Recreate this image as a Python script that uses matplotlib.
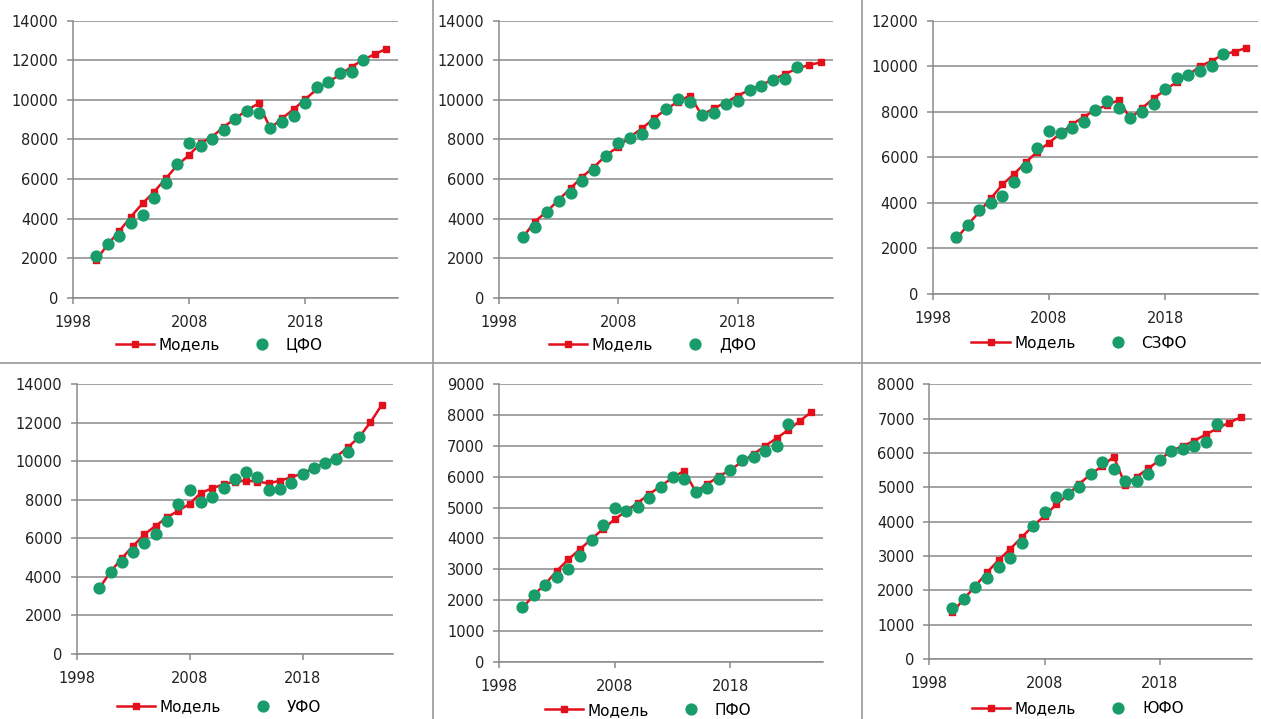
import numpy as np
import matplotlib
matplotlib.use("Agg")
import matplotlib.pyplot as plt
from matplotlib.lines import Line2D

plt.rcParams['font.family'] = ['DejaVu Sans']

years_model = list(range(2000, 2026))
years_fact = list(range(2000, 2024))

# ЦФО
cfo_model = [1900, 2700, 3370, 4100, 4770, 5360, 6030, 6700, 7210, 7800, 8140, 8640, 9060,
             9490, 9820, 8560, 9060, 9520, 10030, 10530, 10920, 11260, 11680, 12010, 12320, 12570]
cfo_fact = [2110, 2700, 3130, 3790, 4180, 5020, 5780, 6740, 7800, 7680, 8000, 8480, 9030,
            9450, 9320, 8590, 8900, 9180, 9860, 10630, 10920, 11340, 11410, 12000]

# ДФО
dfo_model = [3050, 3840, 4350, 4940, 5530, 6120, 6620, 7210, 7630, 8140, 8560, 9060, 9520,
             9910, 10210, 9230, 9570, 9860, 10210, 10500, 10750, 11040, 11310, 11590, 11760, 11900]
dfo_fact = [3050, 3560, 4310, 4890, 5310, 5910, 6450, 7180, 7830, 8050, 8270, 8810, 9520,
            10030, 9870, 9230, 9320, 9790, 9960, 10500, 10700, 11000, 11040, 11680]

# СЗФО
szfo_model = [2400, 3030, 3610, 4200, 4810, 5270, 5780, 6250, 6640, 7050, 7450, 7780, 8080,
              8300, 8510, 7710, 8150, 8590, 8950, 9320, 9610, 10010, 10230, 10520, 10640, 10810]
szfo_fact = [2490, 3030, 3690, 3980, 4300, 4930, 5590, 6420, 7150, 7050, 7300, 7560, 8080,
             8490, 8180, 7710, 8000, 8340, 9000, 9470, 9610, 9790, 10020, 10520]

# УФО
ufo_model = [3410, 4270, 4970, 5610, 6210, 6660, 7090, 7440, 7790, 8370, 8600, 8810, 8950,
             9000, 8950, 8860, 9000, 9170, 9380, 9640, 9930, 10240, 10730, 11250, 12020, 12920]
ufo_fact = [3410, 4270, 4790, 5290, 5780, 6210, 6920, 7790, 8510, 7910, 8130, 8600, 9080,
            9430, 9170, 8510, 8560, 8860, 9330, 9640, 9900, 10120, 10500, 11250]

# ПФО
pfo_model = [1730, 2160, 2520, 2950, 3320, 3650, 3980, 4310, 4620, 4890, 5160, 5440, 5700,
             5970, 6190, 5520, 5760, 6010, 6220, 6490, 6730, 7000, 7250, 7520, 7810, 8100]
pfo_fact = [1760, 2160, 2490, 2740, 3000, 3430, 3950, 4440, 5000, 4890, 5030, 5300, 5680,
            5980, 5930, 5500, 5650, 5920, 6220, 6550, 6640, 6820, 7000, 7710]

# ЮФО
yufo_model = [1360, 1750, 2130, 2520, 2880, 3200, 3540, 3880, 4170, 4500, 4780, 5100, 5380,
              5620, 5890, 5070, 5310, 5550, 5800, 6070, 6200, 6360, 6540, 6720, 6880, 7040]
yufo_fact = [1480, 1750, 2110, 2350, 2670, 2950, 3390, 3880, 4290, 4710, 4800, 5020, 5380,
             5750, 5530, 5190, 5190, 5390, 5800, 6070, 6110, 6210, 6330, 6830]

panels = [
    ("ЦФО", cfo_model, cfo_fact, 14000, 2000, [0.0579, 0.5860, 0.2577, 0.3852], (0.45, -0.171)),
    ("ДФО", dfo_model, dfo_fact, 14000, 2000, [0.3957, 0.5860, 0.2649, 0.3852], (0.46, -0.171)),
    ("СЗФО", szfo_model, szfo_fact, 12000, 2000, [0.7397, 0.5911, 0.2580, 0.3801], (0.45, -0.18)),
    ("УФО", ufo_model, ufo_fact, 14000, 2000, [0.0608, 0.0904, 0.2508, 0.3751], (0.45, -0.197)),
    ("ПФО", pfo_model, pfo_fact, 9000, 1000, [0.3957, 0.0797, 0.2569, 0.3858], (0.46, -0.175)),
    ("ЮФО", yufo_model, yufo_fact, 8000, 1000, [0.7370, 0.0834, 0.2559, 0.3821], (0.46, -0.18)),
]

red = '#e3101c'
green = '#179c6a'
grid_c = '#8a8a8a'

fig = plt.figure(figsize=(12.61, 7.19), dpi=100)

for name, model, fact, ymax, ystep, rect, leg_pos in panels:
    ax = fig.add_axes(rect)
    ax.plot(years_model, model, color=red, lw=1.8, marker='s', ms=4.5, label='Модель', zorder=3)
    ax.plot(years_fact, fact, ls='none', marker='o', ms=7.8, color=green, label=name, zorder=4)

    ax.set_xlim(1998, 2026)
    ax.set_ylim(0, ymax)
    ax.set_xticks([1998, 2008, 2018])
    ax.set_yticks(np.arange(0, ymax + 1, ystep))
    ax.yaxis.grid(True, color=grid_c, lw=1.1)
    ax.set_axisbelow(True)

    for s in ['top', 'right']:
        ax.spines[s].set_visible(False)
    for s in ['left', 'bottom']:
        ax.spines[s].set_color(grid_c)
        ax.spines[s].set_linewidth(1.1)
    ax.tick_params(axis='both', colors=grid_c, length=4.5, width=1.1, labelsize=10.5,
                   labelcolor='#222222')
    ax.tick_params(axis='y', pad=6)
    ax.tick_params(axis='x', pad=8)

    ax.legend(loc='center', bbox_to_anchor=leg_pos, ncol=2, frameon=False, fontsize=11,
              handlelength=2.5, handletextpad=0.3, columnspacing=1.5, borderaxespad=0)

# separators between panels
for x in [433 / 1261, 862 / 1261]:
    fig.add_artist(Line2D([x, x], [0, 1], transform=fig.transFigure, color='#a0a0a0', lw=1.3))
fig.add_artist(Line2D([0, 1], [1 - 363 / 719, 1 - 363 / 719], transform=fig.transFigure,
                      color='#a0a0a0', lw=1.3))

fig.savefig('out.png', dpi=100)
